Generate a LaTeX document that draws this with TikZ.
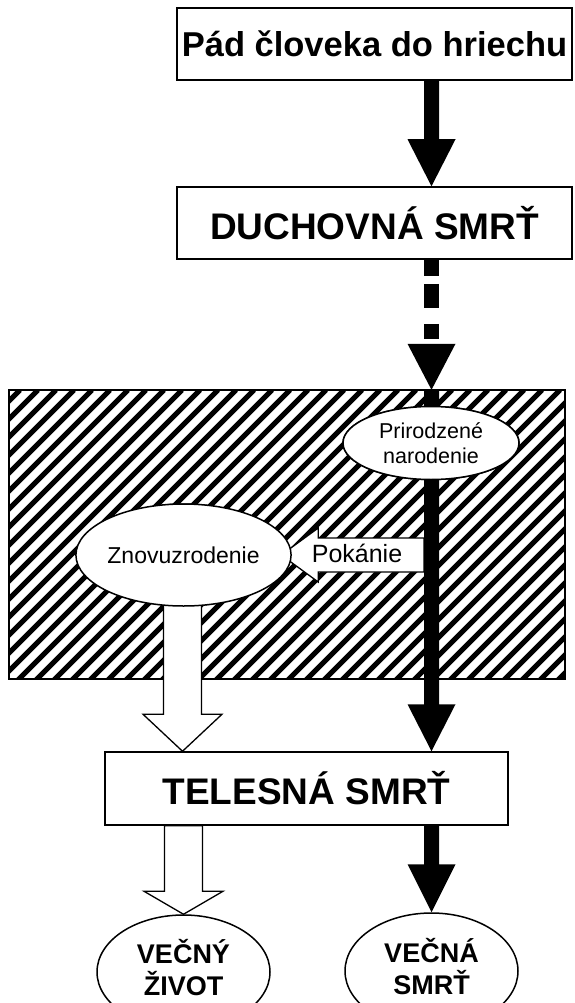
\documentclass[tikz,border=0pt]{standalone}
\usepackage{fontspec}
\setmainfont{Liberation Sans}
\usetikzlibrary{shapes.geometric,calc}
\tikzset{
  boxnode/.style={draw=black,line width=1.5pt,fill=white,inner sep=0pt,minimum width=395pt,minimum height=72pt},
  ovalnode/.style={ellipse,draw=black,line width=1.5pt,fill=white,inner sep=0pt},
  blackarrow/.style={fill=black},
  whitearrow/.style={fill=white,draw=black,line width=1.3pt,line join=miter},
  hatchline/.style={line width=5pt,black},
}
% down-pointing block arrow: style, start, tip, shaft half width, head half width, head length
\newcommand\bdarrow[6]{%
  \path[#1] let \p1=(#2), \p2=(#3) in
    (\x2-#4pt,\y1) -- (\x2+#4pt,\y1) -- (\x2+#4pt,\y2+#6pt) -- (\x2+#5pt,\y2+#6pt)
    -- (\x2,\y2) -- (\x2-#5pt,\y2+#6pt) -- (\x2-#4pt,\y2+#6pt) -- cycle;}
% left-pointing block arrow: style, start, tip, shaft half width, head half width, head length
\newcommand\blarrow[6]{%
  \path[#1] let \p1=(#2), \p2=(#3) in
    (\x1,\y2+#4pt) -- (\x1,\y2-#4pt) -- (\x2+#6pt,\y2-#4pt) -- (\x2+#6pt,\y2-#5pt)
    -- (\x2,\y2) -- (\x2+#6pt,\y2+#5pt) -- (\x2+#6pt,\y2+#4pt) -- cycle;}
\begin{document}
\begin{tikzpicture}[x=1pt,y=-1pt]
\useasboundingbox (0,0) rectangle (574,1003);
\fill[white] (0,0) rectangle (574,1003);
\coordinate (colR) at (431.5,0);
\coordinate (colL) at (182.5,0);

% top boxes
\node[boxnode,font={\fontsize{34.5}{40}\selectfont\bfseries}] (fall) at (374.5,44) {Pád človeka do hriechu};
\node[boxnode,font={\fontsize{37}{42}\selectfont\bfseries}] (spirit) at (374.5,223) {DUCHOVNÁ SMRŤ};

% hatched zone
\node[draw=none,fill=white,inner sep=0pt,minimum width=556pt,minimum height=289pt] (zone) at (287,534.5) {};
\begin{scope}
  \clip (zone.south west) rectangle (zone.north east);
  \foreach \i in {0,...,48}{
    \draw[hatchline] (-280+18*\i,690) -- (-280+18*\i+300,390);
  }
\end{scope}
\draw[line width=1.5pt] (zone.south west) rectangle (zone.north east);

% arrow fall -> spirit
\bdarrow{blackarrow}{fall.south -| colR}{spirit.north -| colR}{7.5}{24}{47}
% dashed arrow spirit -> zone
\coordinate (dhead) at ($(zone.north -| colR)+(0,-46)$);
\draw[line width=15pt,dash pattern=on 16pt off 8pt on 24pt off 16pt on 15pt off 20pt] (spirit.south -| colR) -- (dhead);
\bdarrow{blackarrow}{dhead}{zone.north -| colR}{7.5}{24}{46}

% ellipses inside zone (placeholders, redrawn on top)
\node[ovalnode,minimum width=176pt,minimum height=73pt] (natural) at (431,443) {};
\node[ovalnode,minimum width=194pt,minimum height=102pt] (reborn) at (183.5,555) {};

% lower box
\node[boxnode,minimum width=403pt,minimum height=73pt,font={\fontsize{37}{42}\selectfont\bfseries}] (bodily) at (306.5,788.5) {TELESNÁ SMRŤ};

% Pokanie arrow
\coordinate (pstart) at (424,554);
\blarrow{whitearrow}{pstart}{reborn.east}{17}{27}{37}
\node[inner sep=0pt,font={\fontsize{25}{30}\selectfont}] (pok) at (357,553) {Pokánie};

% black main shaft zone -> bodily
\bdarrow{blackarrow}{zone.north -| colR}{bodily.north -| colR}{7.5}{24}{47}
% white arrow reborn -> bodily
\bdarrow{whitearrow}{reborn.center}{bodily.north -| colL}{19}{39.5}{37}

% ellipses over shafts
\node[ovalnode,minimum width=176pt,minimum height=73pt,align=center,font={\fontsize{21.5}{25}\selectfont}] (natural2) at (natural) {Prirodzené\\narodenie};
\node[ovalnode,minimum width=194pt,minimum height=102pt,font={\fontsize{23}{28}\selectfont}] (reborn2) at (reborn) {Znovuzrodenie};

% bottom ellipses
\node[ovalnode,minimum width=173pt,minimum height=114pt,font={\fontsize{27}{32}\selectfont\bfseries}] (life) at (183.5,972) {};
\node[ovalnode,minimum width=173pt,minimum height=116pt,font={\fontsize{27}{32}\selectfont\bfseries}] (death) at (431.5,971) {};
\node[align=center,inner sep=0pt,font={\fontsize{27}{32}\selectfont\bfseries}] (lifetext) at ([yshift=4pt]life.center) {VEČNÝ\\ŽIVOT};
\node[align=center,inner sep=0pt,font={\fontsize{27}{32}\selectfont\bfseries}] (deathtext) at ([yshift=4pt]death.center) {VEČNÁ\\SMRŤ};

% bottom arrows
\bdarrow{whitearrow}{bodily.south -| colL}{life.north}{19}{39.5}{23}
\bdarrow{blackarrow}{bodily.south -| colR}{death.north}{7.5}{24}{48}
\end{tikzpicture}
\end{document}
